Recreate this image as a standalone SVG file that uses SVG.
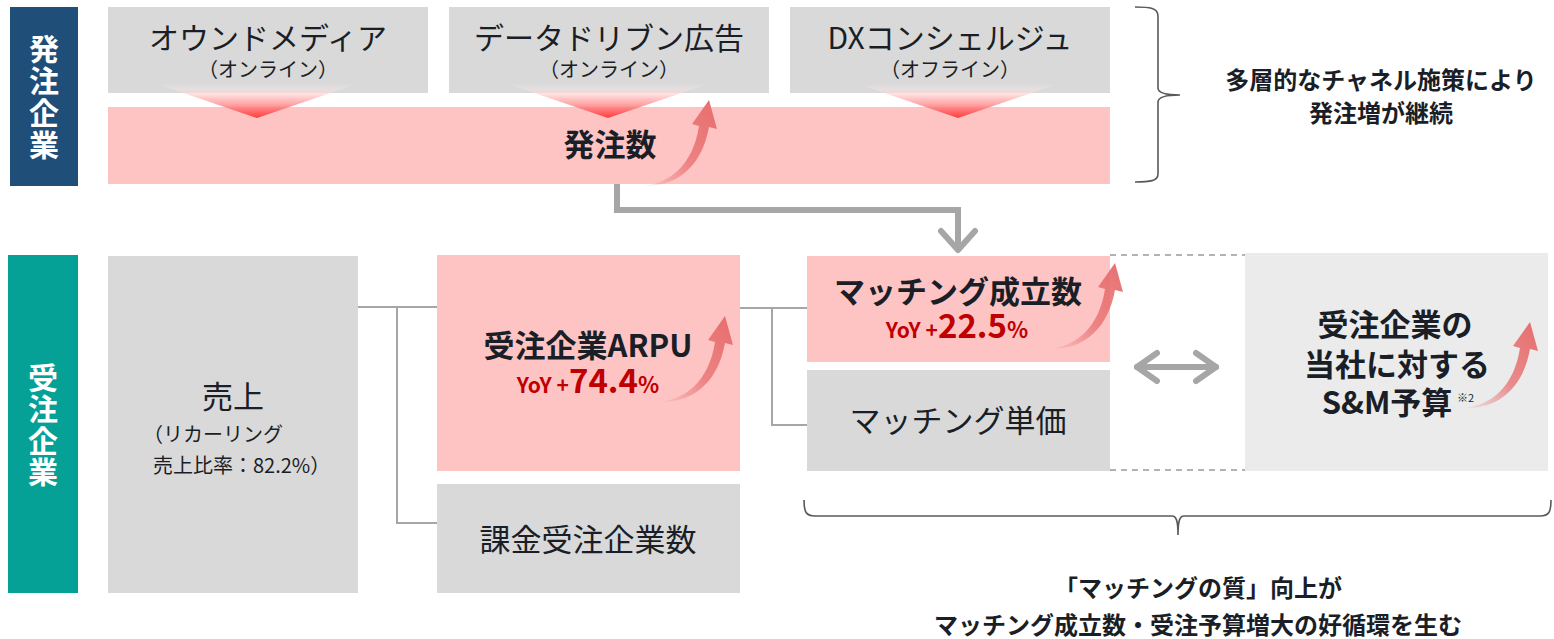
<svg xmlns="http://www.w3.org/2000/svg" width="1554" height="639" viewBox="0 0 1554 639">
<style>
text{font-family:"Noto Sans CJK JP","Noto Sans",sans-serif;fill:#1a1e26}
.t{font-size:30px;text-anchor:middle}
.s{font-size:20px;text-anchor:middle}
.b{font-size:31px;font-weight:700;text-anchor:middle}
.m{font-size:31px;text-anchor:middle}
.lbl{font-size:30px;font-weight:700;fill:#fff;text-anchor:middle}
.note{font-size:24px;font-weight:700;text-anchor:middle}
.yoy{font-weight:700;fill:#c00000}
.gray{fill:#d9d9d9}
.pink{fill:#fec4c4}
.conn{fill:none;stroke:#a6a6a6;stroke-width:2}
.brace{fill:none;stroke:#595959;stroke-width:1.6}
</style>
<defs>
<linearGradient id="tri" x1="0" y1="0" x2="0" y2="1">
<stop offset="0" stop-color="#ffffff" stop-opacity="0"/>
<stop offset="0.3" stop-color="#ffd0d0" stop-opacity="0.7"/>
<stop offset="1" stop-color="#ff3a3a"/>
</linearGradient>
<linearGradient id="up" x1="0" y1="1" x2="1" y2="0">
<stop offset="0" stop-color="#e76d6d" stop-opacity="0"/>
<stop offset="0.45" stop-color="#e76d6d" stop-opacity="0.75"/>
<stop offset="1" stop-color="#e76d6d"/>
</linearGradient>
<path id="rise" d="M0,0 C30,-2 52,-22 58,-60 L51,-62 L68,-86 L76,-57 L68,-59 C61,-20 36,2 0,0 Z" fill="url(#up)"/>
</defs>

<g id="label-hacchu">
<rect x="10" y="7" width="68" height="179" fill="#1f4e79"/>
<text class="lbl"><tspan x="44" y="60">発</tspan><tspan x="44" y="92">注</tspan><tspan x="44" y="124">企</tspan><tspan x="44" y="156">業</tspan></text>
</g>

<g id="owned-media">
<rect class="gray" x="108" y="7" width="320" height="86"/>
<text class="t" x="268" y="49">オウンドメディア</text>
<text class="s" x="268" y="77">（オンライン）</text>
</g>
<g id="data-driven">
<rect class="gray" x="449" y="7" width="320" height="86"/>
<text class="t" x="609" y="49">データドリブン広告</text>
<text class="s" x="609" y="77">（オンライン）</text>
</g>
<g id="dx-concierge">
<rect class="gray" x="790" y="7" width="320" height="86"/>
<text class="t" x="950" y="49">DXコンシェルジュ</text>
<text class="s" x="950" y="77">（オフライン）</text>
</g>

<g id="hacchu-su">
<rect class="pink" x="108" y="107" width="1002" height="77"/>
<text class="b" x="610" y="156">発注数</text>
</g>

<g id="triangles">
<polygon points="157,84 357,84 257,118" fill="url(#tri)"/>
<polygon points="508,84 708,84 608,118" fill="url(#tri)"/>
<polygon points="858,84 1058,84 958,118" fill="url(#tri)"/>
</g>

<g id="brace-top">
<path class="brace" d="M1135,7 C1150,7 1158,8 1158,16 L1158,88 C1158,93 1165,95 1180,95 C1165,95 1158,97 1158,102 L1158,174 C1158,181 1150,182 1135,182"/>
<text class="note" x="1381" y="89">多層的なチャネル施策により</text>
<text class="note" x="1381" y="122">発注増が継続</text>
</g>

<g id="label-juchu">
<rect x="8" y="255" width="70" height="338" fill="#05a096"/>
<text class="lbl"><tspan x="43" y="389">受</tspan><tspan x="43" y="420">注</tspan><tspan x="43" y="452">企</tspan><tspan x="43" y="483">業</tspan></text>
</g>

<g id="uriage">
<rect class="gray" x="108" y="256" width="250" height="337"/>
<text class="m" x="233" y="408">売上</text>
<text x="143" y="442" style="font-size:20px">（リカーリング</text>
<text x="153" y="473" style="font-size:20px">売上比率：82.2%）</text>
</g>

<g id="arpu">
<rect class="pink" x="437" y="255" width="303" height="216"/>
<text class="b" x="588" y="357">受注企業ARPU</text>
<text x="588" y="393" text-anchor="middle" class="yoy"><tspan style="font-size:21px">YoY +</tspan><tspan style="font-size:33px">74.4</tspan><tspan style="font-size:22px">%</tspan></text>
</g>

<g id="kakin">
<rect class="gray" x="437" y="484" width="303" height="109"/>
<text class="m" x="588" y="551">課金受注企業数</text>
</g>

<g id="matching">
<rect class="pink" x="807" y="256" width="303" height="106"/>
<text class="b" x="958" y="303">マッチング成立数</text>
<text x="957" y="338" text-anchor="middle" class="yoy"><tspan style="font-size:21px">YoY +</tspan><tspan style="font-size:33px">22.5</tspan><tspan style="font-size:22px">%</tspan></text>
</g>

<g id="tanka">
<rect class="gray" x="807" y="370" width="303" height="101"/>
<text class="m" x="958" y="432">マッチング単価</text>
</g>

<g id="sm-budget">
<rect x="1245" y="253" width="303" height="218" fill="#ebebeb"/>
<text class="b" x="1395" y="336">受注企業の</text>
<text class="b" x="1397" y="376">当社に対する</text>
<text class="b" x="1387" y="414">S&amp;M予算</text>
<text x="1457" y="402" style="font-size:11px">※2</text>
</g>

<g id="connectors">
<polyline points="617,184 617,210 958,210 958,250" fill="none" stroke="#a6a6a6" stroke-width="6"/>
<polyline points="941,231 958,250 975,231" fill="none" stroke="#a6a6a6" stroke-width="6" stroke-linecap="round" stroke-linejoin="round"/>
<line class="conn" x1="358" y1="307" x2="437" y2="307"/>
<polyline class="conn" points="397,307 397,523 437,523"/>
<line class="conn" x1="740" y1="308" x2="807" y2="308"/>
<polyline class="conn" points="772,308 772,425 807,425"/>
<path d="M1110,255 H1245 M1110,470 H1245" fill="none" stroke="#b3b3b3" stroke-width="2" stroke-dasharray="6,5"/>
<g fill="none" stroke="#a6a6a6" stroke-width="6" stroke-linecap="round" stroke-linejoin="round">
<line x1="1137" y1="367" x2="1216" y2="367"/>
<polyline points="1157,353 1137,367 1157,381"/>
<polyline points="1196,353 1216,367 1196,381"/>
</g>
</g>

<g id="rise-arrows">
<use href="#rise" transform="translate(641,186)"/>
<use href="#rise" transform="translate(657,402)"/>
<use href="#rise" transform="translate(1047,349)"/>
<use href="#rise" transform="translate(1462,408)"/>
</g>

<g id="brace-bottom">
<path class="brace" d="M804,500 C804,512 806,516 815,516 L1172,516 C1176,516 1178,520 1178,535 C1178,520 1180,516 1184,516 L1540,516 C1549,516 1551,512 1551,500"/>
<text class="note" x="1198" y="597">「マッチングの質」向上が</text>
<text class="note" x="1198" y="634">マッチング成立数・受注予算増大の好循環を生む</text>
</g>
</svg>
